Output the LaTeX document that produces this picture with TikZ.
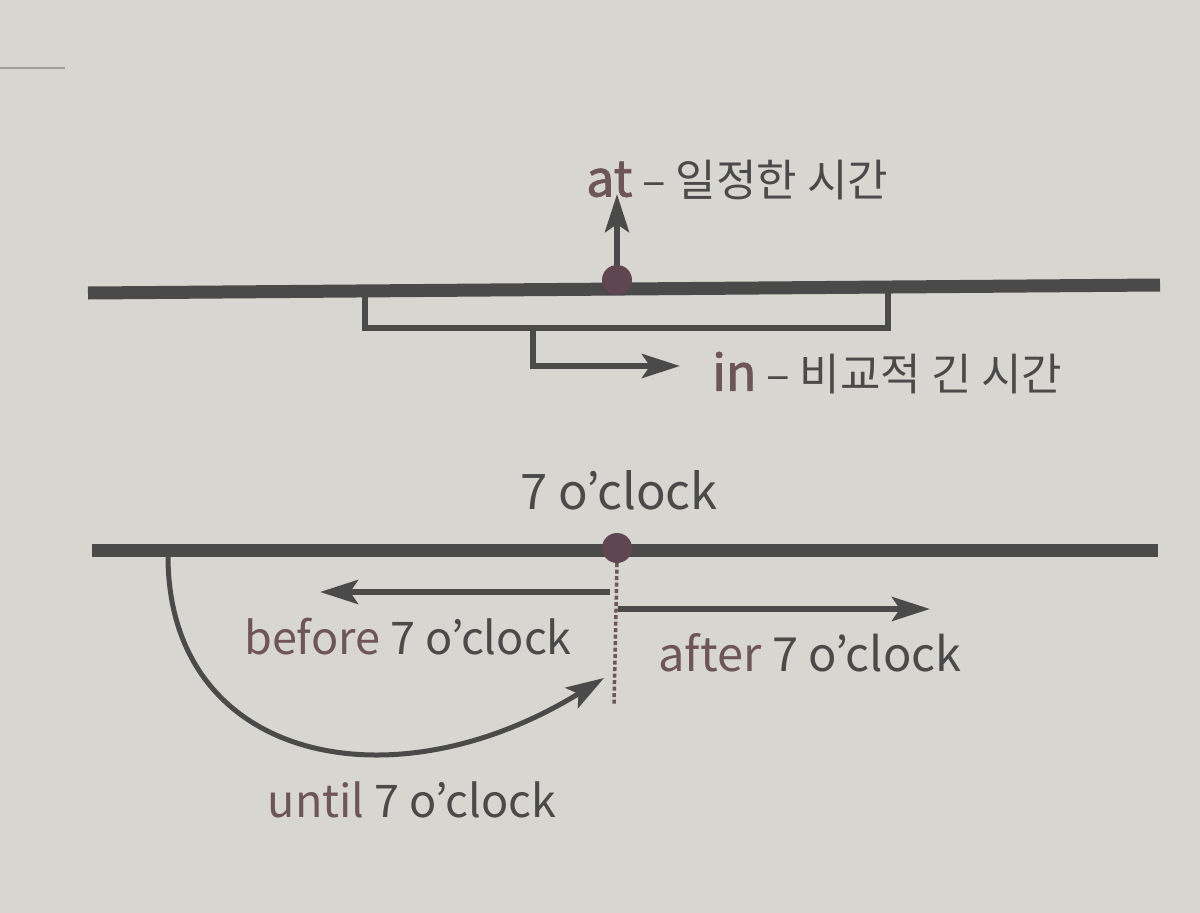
\documentclass[tikz,border=0pt]{standalone}
\usepackage{fontspec}
\newfontfamily\kr{Noto Sans CJK KR}
\usetikzlibrary{arrows.meta}
\definecolor{paper}{HTML}{D8D6D1}
\definecolor{ink}{HTML}{4A4A4A}
\definecolor{mauve}{HTML}{6E5559}
\definecolor{dotc}{HTML}{5F4650}

\begin{document}
\begin{tikzpicture}[x=1pt,y=-1pt,
    timeline/.style={ink,line width=13pt},
    conn/.style={ink,line width=6pt},
    tip/.style={-{Stealth[length=38pt,width=24pt,inset=8pt]}},
    spot/.style={circle,fill=dotc,inner sep=0pt,minimum size=30pt},
    lbl/.style={inner sep=0pt,ink,font=\kr\fontsize{44}{48}\selectfont}]
  \useasboundingbox[fill=paper] (0,0) rectangle (1200,913);
  \draw[gray!75,line width=1.5pt] (0,68) -- (65,68);

  % at / in
  \coordinate (topL) at (88,293);
  \coordinate (topR) at (1160,285);
  \draw[timeline] (topL) -- (topR);
  \node[spot] (atdot) at (617,280) {};
  \node[lbl,anchor=west] (atlbl) at (586,180)
    {{\fontsize{50}{54}\selectfont\addfontfeatures{FakeBold=1.6}\color{mauve}at} – 일정한 시간};
  \draw[conn,tip] (atdot.north) -- ([yshift=6pt]atdot.north |- atlbl.south);
  \coordinate (inL) at (365,294);
  \coordinate (inR) at (888,290);
  \draw[conn] (inL) -- ++(0,34) -| (inR);
  \node[lbl,anchor=west] (inlbl) at (712,373)
    {{\fontsize{50}{54}\selectfont\addfontfeatures{FakeBold=1.6}\color{mauve}in} – 비교적 긴 시간};
  \draw[conn,tip] (533,328) |- ([xshift=-32pt,yshift=7pt]inlbl.west);

  % before / after / until
  \coordinate (botL) at (92,550);
  \coordinate (botR) at (1158,550);
  \draw[timeline] (botL) -- (botR);
  \node[spot] (sevendot) at (617,548) {};
  \node[lbl,font=\kr\fontsize{49}{53}\selectfont] (seven) at (619,490) {7 o’clock};
  \coordinate (cut) at (614,705);
  \draw[mauve,line width=3.5pt,dash pattern=on 4pt off 2.5pt] (sevendot.south) -- (cut);
  \coordinate (befS) at (610,592);
  \coordinate (befE) at (320,592);
  \draw[conn,tip] (befS) -- (befE);
  \coordinate (aftS) at (618,609);
  \coordinate (aftE) at (930,609);
  \draw[conn,tip] (aftS) -- (aftE);
  \node[lbl,font=\kr\fontsize{45}{49}\selectfont] (before) at (408,637) {{\color{mauve}before} 7 o’clock};
  \node[lbl,font=\kr\fontsize{47}{51}\selectfont] (after) at (810,653) {{\color{mauve}after} 7 o’clock};
  \coordinate (untS) at (168,556);
  \coordinate (untE) at (604,678);
  \draw[conn,line width=5pt,tip] (untS) .. controls (168,760) and (390,810) .. (untE);
  \node[lbl,font=\kr\fontsize{45}{49}\selectfont] (until) at (412,800) {{\color{mauve}until} 7 o’clock};
\end{tikzpicture}
\end{document}
